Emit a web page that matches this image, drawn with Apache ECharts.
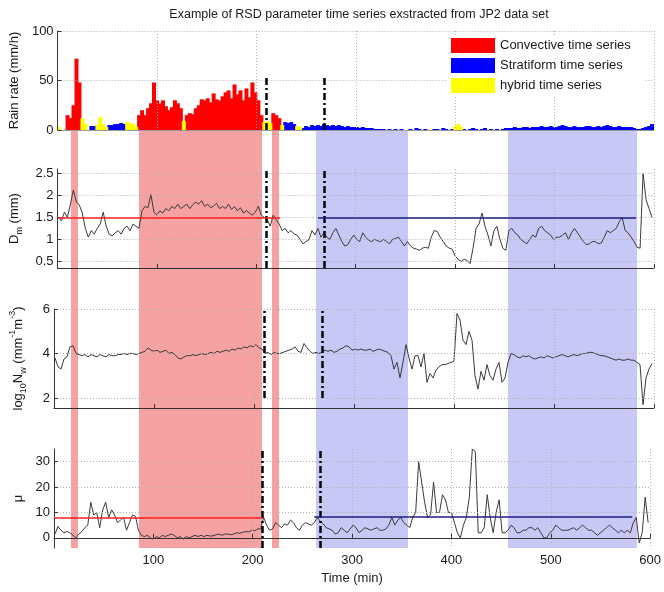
<!DOCTYPE html>
<html>
<head>
<meta charset="utf-8">
<script src="https://cdn.jsdelivr.net/npm/echarts@6/dist/echarts.min.js"></script>
<style>
html,body{margin:0;padding:0;background:#fff}
#chart{width:664px;height:592px}
</style>
</head>
<body>
<div id="chart"></div>
<script>
// one sample every 3 min, first one at t = 1 min
const t0 = 1
const step = 3

// rain rate (mm/h) and its class: C convective, S stratiform, H hybrid
const rainRate = [
  3, 0, 0, 15, 12, 25, 72, 48, 12, 6,
  0, 4, 4, 5, 13, 6, 3, 5, 5, 6,
  6, 7, 6, 8, 7, 6, 3, 15, 20, 15,
  22, 27, 48, 30, 27, 30, 24, 20, 23, 30,
  27, 22, 9, 15, 17, 16, 22, 25, 31, 30,
  32, 28, 37, 31, 30, 34, 38, 40, 32, 46,
  36, 40, 30, 42, 33, 48, 38, 30, 15, 8,
  9, 7, 17, 15, 12, 5, 8, 7, 8, 6,
  4, 3, 2, 4, 3, 5, 4, 5, 4, 6,
  5, 4, 5, 4, 5, 4, 3, 4, 3, 3,
  3, 2, 3, 2, 2, 2, 1, 1, 1, 1,
  0, 1, 0, 1, 0, 1, 0, 0, 1, 0,
  2, 1, 0, 1, 0, 0, 1, 1, 0, 2,
  1, 0, 1, 4, 6, 3, 1, 0, 1, 2,
  1, 0, 1, 2, 0, 1, 0, 1, 0, 1,
  2, 2, 2, 3, 2, 2, 3, 3, 2, 3,
  3, 3, 4, 3, 3, 4, 3, 3, 4, 5,
  4, 3, 3, 4, 3, 3, 3, 4, 4, 3,
  3, 4, 3, 4, 5, 4, 3, 3, 4, 3,
  3, 3, 3, 2, 1, 1, 2, 3, 4, 6
]
const rainType =
  'HHHCCCCCHH' + 'SSSHHHHSSS' + 'SSSHHHHCCC' + 'CCCCCCCCCC' +
  'CCHCCCCCCC' + 'CCCCCCCCCC' + 'CCCCCCCCCH' + 'HHCCCHSSSS' +
  'HHSSSSSSSS' + 'SSSSSSSSSS' + 'SSSSSSSSSS' + 'SSSSSSSSSS' +
  'SSSSSSSSSS' + 'SSSHHHSSSS' + 'SSSSSSSSSS' + 'SSSSSSSSSS' +
  'SSSSSSSSSS' + 'SSSSSSSSSS' + 'SSSSSSSSSS' + 'SSSSSSSSSS'

const dm = [
  1.5, 1.42, 1.62, 1.5, 1.8, 2.12, 1.85, 1.78, 1.6, 1.25,
  1.05, 1.2, 1.12, 1.25, 1.35, 1.62, 1.3, 1.12, 1.08, 1.15,
  1.2, 1.12, 1.25, 1.3, 1.2, 1.35, 1.3, 1.25, 1.65, 1.75,
  1.72, 2.02, 1.62, 1.55, 1.65, 1.6, 1.7, 1.65, 1.75, 1.7,
  1.8, 1.7, 1.75, 1.8, 1.7, 1.78, 1.85, 1.8, 1.88, 1.75,
  1.8, 1.72, 1.76, 1.82, 1.7, 1.75, 1.7, 1.8, 1.68, 1.75,
  1.65, 1.72, 1.6, 1.65, 1.6, 1.55, 1.62, 1.75, 1.55, 1.5,
  1.45, 1.3, 1.55, 1.45, 1.35, 1.2, 1.25, 1.15, 1.2, 1.12,
  1.1, 1.0, 0.9, 0.95, 1.0, 1.2, 1.1, 1.25, 1.05, 1.15,
  1.05, 1.0, 1.15, 1.25, 1.1, 0.95, 0.85, 0.88, 1.0, 1.1,
  1.0, 0.95, 1.15, 1.05, 0.98, 0.95, 1.0, 0.97, 0.95, 1.0,
  0.95, 0.9, 1.0, 1.02, 1.05, 0.95, 0.85, 0.95, 0.85, 0.8,
  0.78, 0.75, 0.8, 0.82, 0.8, 1.05, 1.2, 1.18, 1.05, 0.95,
  0.85, 0.8, 0.78, 0.62, 0.55, 0.5, 0.55, 0.52, 0.45, 0.8,
  1.25, 1.35, 1.6, 1.3, 1.1, 0.85, 1.2, 1.3, 1.0, 0.8,
  0.75, 1.2, 1.25, 1.15, 1.1, 1.0, 0.95, 0.9, 1.0, 1.1,
  1.05, 1.25, 1.3, 1.2, 1.15, 1.1, 1.0, 1.05, 1.05, 1.1,
  1.15, 1.0, 1.15, 1.25, 1.15, 1.05, 0.95, 0.88, 0.9, 0.95,
  0.95, 0.9, 0.92, 1.05, 1.2, 1.15, 1.2, 1.25, 1.4, 1.5,
  1.2, 1.15, 1.05, 0.95, 0.82, 0.8, 2.5, 1.9, 1.7, 1.5
]

const logNw = [
  3.8, 3.4, 3.3, 3.75, 3.85, 4.3, 4.35, 4.0, 3.95, 3.9,
  3.95, 3.85, 3.95, 3.9, 3.85, 3.95, 3.9, 3.85, 3.95, 3.9,
  3.9, 3.95, 3.95, 4.0, 3.95, 4.0, 4.0, 3.95, 4.0, 4.05,
  4.1, 4.25, 4.15, 4.1, 4.15, 4.05, 4.1, 4.15, 4.0, 4.05,
  3.95, 3.8, 3.75, 3.85, 3.9, 3.9, 3.95, 3.9, 3.95, 4.0,
  3.95, 4.0, 4.05, 4.0, 4.1, 4.05, 4.1, 4.15, 4.1, 4.2,
  4.15, 4.25, 4.2, 4.3, 4.25, 4.35, 4.3, 4.4, 4.25, 4.2,
  4.0, 4.05, 3.95, 4.05, 4.0, 4.0, 4.05, 4.1, 4.15, 4.2,
  4.3, 4.1, 4.05, 4.45, 4.25, 4.1, 4.0, 4.05, 4.0, 4.05,
  4.15, 4.1, 4.15, 4.05, 4.1, 4.2, 4.25, 4.35, 4.3, 4.15,
  4.2, 4.15, 4.2, 4.15, 4.15, 4.2, 4.1, 4.15, 4.2, 4.15,
  4.1, 4.05, 3.9, 3.3, 3.6, 2.9, 3.6, 4.4, 3.8, 3.3,
  3.9, 3.9, 3.4, 4.0, 2.7, 3.1, 2.9, 3.25, 3.4, 3.5,
  3.5, 3.55, 3.6, 3.65, 5.8, 5.5, 4.6, 4.4, 5.0, 4.6,
  3.0, 2.4, 3.2, 2.8, 3.5, 3.0, 2.8, 3.3, 3.6, 2.7,
  2.9, 3.6, 4.0, 3.95, 3.85, 3.8, 3.9, 3.85, 3.9, 3.8,
  3.75, 3.8, 3.85, 3.8, 3.9, 3.85, 3.8, 3.85, 3.9, 3.95,
  3.9, 3.85, 3.9, 3.95, 3.9, 3.95, 4.0, 4.0, 4.05, 4.05,
  4.0, 3.95, 3.9, 3.9, 3.85, 3.8, 3.75, 3.7, 3.75, 3.7,
  3.7, 3.75, 3.7, 3.7, 3.6, 3.5, 1.7, 2.9, 3.3, 3.55
]

const mu = [
  1.5, 4.5, 3, 2, 2.5, 2, 1, 0, 1.5, 2.5,
  4, 5, 14, 9, 10, 4, 11, 14, 8, 11,
  9, 6, 7, 8, 3, 6, 9, 8.5, 3, 1,
  0.5, 1, 0, -0.5, 0.5, 0, 1, 0.5, 1, 1.5,
  1, 0, 0.5, -0.5, 0.5, 0, 0.5, 1, 0.5, 1,
  0.5, 1, 0.7, 0.8, 1.2, 1.5, 1, 1.5, 1.5, 1.2,
  1.5, 2, 1.8, 2.2, 2.5, 2.3, 3, 2.8, 3.5, 3.5,
  8, 5, 3, 3.5, 6, 5, 4, 5.5, 5, 7,
  6, 4, 3, 5, 6, 5.5, 5, 6, 8, 6.5,
  5.5, 4, 3.5, 3, 1.5, 2, 4, 3, 2, 3.5,
  5, 4, 2, 3, 4, 3.5, 3, 3.5, 4, 3,
  3, 3.5, 5, 8, 5, 7, 8, 6, 5, 4,
  8, 10, 30, 22, 14, 8, 9, 22, 10, 10,
  17, 15, 10, 10, 6, 2, 0, 5, 8, 16,
  35, 34, 2, 2, 4, 17, 8, 2, 10, 15,
  2, 2, 3, 5, 4, 2, 2, 3, 3, 4,
  4, 3, 4, 2, 0, 0, 2, 3, 5, 4,
  3, 3, 3, 3.5, 4, 3, 4, 5, 4, 3,
  3, 2, 1, 2, 3, 4, 5, 4, 3, 2,
  3, 2, 3, 2, 6, 8, -2, 2, 16, 6
]

// classified periods (min)
const convBands = [[17, 24], [85, 208], [218, 225]]
const stratBands = [[262, 354], [454, 583]]
const dashTimes = [210, 268]
// class means: [start, end, value]
const dmMeans = { conv: [0, 224, 1.5], strat: [262, 582, 1.5] }
const muMeans = { conv: [0, 210, 8], strat: [262, 582, 8.3] }

const times = rainRate.map((_, i) => t0 + step * i)
const pairs = arr => arr.map((v, i) => [times[i], v])
const rainOf = c => rainRate.map((v, i) => [times[i], rainType[i] === c ? v : 0])

const font = 'Liberation Sans, Arial, sans-serif'
const C_RED = '#ff0000'
const C_BLUE = '#0000ff'
const C_YEL = '#ffff00'
const DARK = '#1a1a1a'

// showTop: label + grid line at the axis max
const panels = [
  { top: 31, min: 0, max: 100, interval: 50, gap: 34, showTop: true },
  { top: 169, min: 0.35, max: 2.6, split: 5, gap: 28, showTop: false },
  { top: 309, min: 1.55, max: 6, split: 2, gap: 26, showTop: true },
  { top: 449, min: -4, max: 35, split: 4, gap: 20, showTop: false }
]
const names = [
  'Rain rate (mm/h)',
  '{t|D}{s|m}{t| (mm)}',
  '{t|log}{s|10}{t|N}{s|w}{t| (mm}{p|-1}{t|m}{p|-3}{t|)}',
  'μ'
]
const rich = {
  t: { fontSize: 13, fontFamily: font, color: DARK, verticalAlign: 'middle', lineHeight: 20 },
  s: { fontSize: 9, fontFamily: font, color: DARK, verticalAlign: 'bottom', lineHeight: 20 },
  p: { fontSize: 9, fontFamily: font, color: DARK, verticalAlign: 'top', lineHeight: 20 }
}

const grid = panels.map(p => ({ left: 54, right: 10, top: p.top, height: 99 }))
grid.push({ left: 54, right: 10, top: 131, height: 417 })

const xAxis = panels.map((p, i) => ({
  type: 'value', gridIndex: i, min: 0, max: 600, interval: 100, z: 3,
  name: i === 3 ? 'Time (min)' : '', nameLocation: 'middle', nameGap: 24,
  nameTextStyle: { fontSize: 13, fontFamily: font, color: DARK },
  axisLine: { lineStyle: { color: i === 0 ? '#999' : '#333', width: 1 } },
  axisTick: { show: i > 0, inside: true, length: 4, lineStyle: { color: '#333' } },
  axisLabel: { show: i === 3, fontSize: 13, fontFamily: font, color: DARK, margin: 6, showMinLabel: false },
  splitLine: { show: true, lineStyle: { color: '#b0b0b0', type: [1, 2] } }
}))
xAxis.push({ type: 'value', gridIndex: 4, min: 0, max: 600, show: false })

const yAxis = panels.map((p, i) => {
  const ax = {
    type: 'value', gridIndex: i, min: p.min, max: p.max, z: 3,
    name: names[i], nameLocation: 'middle', nameRotate: 90, nameGap: p.gap,
    nameTextStyle: { fontSize: 13, fontFamily: font, color: DARK, rich: rich },
    axisLine: { show: true, lineStyle: { color: '#333', width: 1 } },
    axisTick: { show: true, inside: true, length: 4, lineStyle: { color: '#333' } },
    axisLabel: { fontSize: 13, fontFamily: font, color: DARK, margin: 4, showMinLabel: i === 0, showMaxLabel: p.showTop },
    splitLine: { show: true, showMaxLine: p.showTop, showMinLine: false, lineStyle: { color: '#b0b0b0', type: [1, 2] } }
  }
  if (p.interval) ax.interval = p.interval
  else ax.splitNumber = p.split
  return ax
})
yAxis.push({ type: 'value', gridIndex: 4, min: 0, max: 1, show: false })

const dashStyle = { color: '#000', width: 2.5, type: [7, 3, 2, 3] }
function dashLines(y0, y1) {
  return dashTimes.map(t => [{ coord: [t, y0], lineStyle: dashStyle }, { coord: [t, y1] }])
}
function meanLine(m, color) {
  return [{ coord: [m[0], m[2]], lineStyle: { color: color, width: 1.6, type: 'solid' } }, { coord: [m[1], m[2]] }]
}
function trace(data, i, marks) {
  return {
    type: 'line', xAxisIndex: i, yAxisIndex: i, data: data, symbol: 'none', z: 2,
    lineStyle: { color: '#3a3a3a', width: 1 }, silent: true,
    markLine: { silent: true, symbol: 'none', label: { show: false }, animation: false, data: marks }
  }
}
function bars(name, c, color) {
  return {
    name: name, type: 'bar', stack: 'rain', xAxisIndex: 0, yAxisIndex: 0,
    data: rainOf(c), barWidth: 4, itemStyle: { color: color }, silent: true
  }
}

const series = [
  {
    type: 'line', xAxisIndex: 4, yAxisIndex: 4, data: [[0, 0]], symbol: 'none', z: 1,
    lineStyle: { opacity: 0 }, silent: true,
    markArea: {
      silent: true,
      data: convBands.map(b => [{ xAxis: b[0], itemStyle: { color: '#f6a2a2', opacity: 1 } }, { xAxis: b[1] }])
        .concat(stratBands.map(b => [{ xAxis: b[0], itemStyle: { color: '#c8c8f7', opacity: 1 } }, { xAxis: b[1] }]))
    }
  },
  bars('Convective time series', 'C', C_RED),
  bars('Stratiform time series', 'S', C_BLUE),
  bars('hybrid time series', 'H', C_YEL),
  trace([], 0, dashLines(0, 55)),
  trace(pairs(dm), 1, dashLines(0.35, 2.6).concat([meanLine(dmMeans.conv, '#ff2020'), meanLine(dmMeans.strat, '#1c1c80')])),
  trace(pairs(logNw), 2, dashLines(2, 6)),
  trace(pairs(mu), 3, dashLines(-4, 35).concat([meanLine(muMeans.conv, '#ff2020'), meanLine(muMeans.strat, '#1c1c80')]))
]

const chart = echarts.init(document.getElementById('chart'))
chart.setOption({
  animation: false,
  backgroundColor: '#fff',
  title: {
    text: 'Example of RSD parameter time series exstracted from JP2 data set',
    left: 354, top: 3, textAlign: 'center',
    textStyle: { fontSize: 12.5, fontWeight: 'normal', fontFamily: font, color: DARK }
  },
  legend: {
    left: 447, top: 35, orient: 'vertical', itemWidth: 44, itemHeight: 15, itemGap: 5,
    padding: [3, 14, 3, 4], backgroundColor: '#fff', icon: 'rect', selectedMode: false,
    textStyle: { fontSize: 13, fontFamily: font, color: DARK },
    data: ['Convective time series', 'Stratiform time series', 'hybrid time series']
  },
  grid: grid,
  xAxis: xAxis,
  yAxis: yAxis,
  series: series
})
</script>
</body>
</html>
